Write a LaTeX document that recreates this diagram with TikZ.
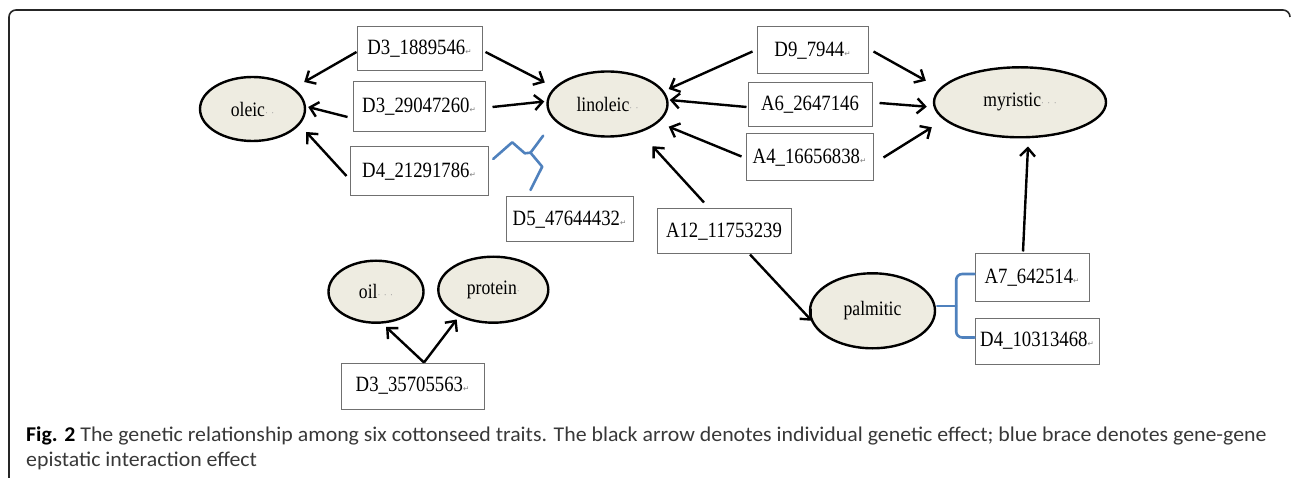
\documentclass[tikz,border=0pt]{standalone}
\usepackage{fontspec}
\setmainfont{Liberation Serif}[FakeStretch=0.86]
\newfontfamily\capfont{Carlito}[FakeStretch=1.04]
\newfontfamily\glyphfont{DejaVu Sans}
\usetikzlibrary{shapes.geometric,arrows.meta}
\definecolor{traitfill}{HTML}{EEECE1}
\definecolor{bracecol}{HTML}{4F81BD}
\definecolor{boxline}{HTML}{707070}
\definecolor{captext}{HTML}{383838}
% small paragraph and space marks that follow some labels
\newcommand{\retmark}{\hbox{\glyphfont\fontsize{7.5}{7.5}\selectfont\color{gray}↵}}
\newcommand{\dotmark}{{\color{gray!80}\fontsize{10}{10}\selectfont ·}}
\tikzset{
  snpbox/.style={draw=boxline, line width=1pt, fill=white, inner sep=0pt,
                 font=\fontsize{21.8}{23}\selectfont},
  trait/.style={ellipse, draw=black, line width=2.4pt, fill=traitfill, inner sep=0pt,
                font=\fontsize{20.5}{22}\selectfont},
  effect/.style={draw=black, line width=2.4pt,
                 -{Straight Barb[length=8pt,width=15pt,line width=2.4pt]}},
  epistasis/.style={draw=bracecol, line width=2.6pt, line join=round, line cap=round},
  frameline/.style={draw=black!85, line width=1.6pt},
  captionline/.style={anchor=base west, inner sep=0pt, text=captext,
                      font=\capfont\fontsize{21}{24}\selectfont},
}
\begin{document}
\begin{tikzpicture}[x=1pt,y=-1pt]
\useasboundingbox (0,0) rectangle (1292,478);

% outer frame (open at the bottom)
\draw[frameline, rounded corners=7pt] (9,478) -- (9,10) -- (1290,10) -- (1290,17);

% traits
\node[trait, minimum width=105pt, minimum height=64pt] (oleic)    at (252.5,109) {oleic\dotmark\,\dotmark};
\node[trait, minimum width=120pt, minimum height=65pt] (linoleic) at (607.5,104) {linoleic\dotmark\,\dotmark};
\node[trait, minimum width=172pt, minimum height=70pt] (myristic) at (1020,102.3) {myristic\dotmark\,\dotmark\,\dotmark};
\node[trait, minimum width=95pt,  minimum height=62pt] (oil)      at (376,291.7) {oil\dotmark\,\dotmark\,\dotmark};
\node[trait, minimum width=110pt, minimum height=66pt] (protein)  at (493.3,289.7) {protein\dotmark};
\node[trait, minimum width=125pt, minimum height=75pt] (palmitic) at (872.5,310.8) {palmitic};

% loci
\node[snpbox, minimum width=125pt, minimum height=44pt] (b1)  at (419.5,49)   {D3\_1889546\retmark};
\node[snpbox, minimum width=132pt, minimum height=50pt] (b2)  at (419,107)    {D3\_29047260\retmark};
\node[snpbox, minimum width=138pt, minimum height=49pt] (b3)  at (419,171.5)  {D4\_21291786\retmark};
\node[snpbox, minimum width=127pt, minimum height=45pt] (b4)  at (569.5,219.5){D5\_47644432\retmark};
\node[snpbox, minimum width=111pt, minimum height=47pt] (b5)  at (812.5,50.5) {D9\_7944\retmark};
\node[snpbox, minimum width=124pt, minimum height=44pt] (b6)  at (810,105)    {A6\_2647146};
\node[snpbox, minimum width=127pt, minimum height=47pt] (b7)  at (809.5,157.5){A4\_16656838\retmark};
\node[snpbox, minimum width=134pt, minimum height=45pt] (b8)  at (724,231.5)  {A12\_11753239};
\node[snpbox, minimum width=114pt, minimum height=47pt] (b9)  at (1032,277.5) {A7\_642514\retmark};
\node[snpbox, minimum width=124pt, minimum height=46pt] (b10) at (1037,341)   {D4\_10313468\retmark};
\node[snpbox, minimum width=143pt, minimum height=46pt] (b11) at (412.5,386)  {D3\_35705563\retmark};

% individual genetic effects
\draw[effect] ([shift={(0,3)}]b1.west)   -- ([shift={(-2,-27)}]oleic.east);
\draw[effect] ([shift={(-5,10)}]b2.west) -- ([shift={(2,-2)}]oleic.east);
\draw[effect] ([shift={(-3,4.5)}]b3.west) -- ([shift={(0,23)}]oleic.east);

\draw[effect] ([shift={(3,3)}]b1.east)   -- ([shift={(-1.5,-21.5)}]linoleic.west);
\draw[effect] ([shift={(7,0)}]b2.east)   -- ([shift={(-2,-2.5)}]linoleic.west);
\draw[effect] ([shift={(-4,1)}]b5.west)  -- ([shift={(0,-15)}]linoleic.east);
\draw[effect] ([shift={(-1,2)}]b6.west)  -- ([shift={(1,-4)}]linoleic.east);
\draw[effect] ([shift={(-4,-1)}]b7.west) -- ([shift={(0,22.7)}]linoleic.east);
\draw[effect] ([shift={(-20,-6)}]b8.north) -- ([shift={(45,8.5)}]linoleic.south);

\draw[effect] ([shift={(5,1)}]b5.east)   -- ([shift={(-7,-21.6)}]myristic.west);
\draw[effect] ([shift={(7,-2)}]b6.east)  -- ([shift={(-6,4.4)}]myristic.west);
\draw[effect] ([shift={(10,0)}]b7.east)  -- ([shift={(-1,25)}]myristic.west);
\draw[effect] ([shift={(-9,-2)}]b9.north) -- ([shift={(8,8)}]myristic.south);

\draw[effect] ([shift={(26,0)}]b8.south) -- ([shift={(3,10)}]palmitic.west);

\draw[effect] ([shift={(11.5,0)}]b11.north) -- ([shift={(10,3)}]oil.south);
\draw[effect] ([shift={(11.5,0)}]b11.north) -- ([shift={(-36.6,-4.4)}]protein.south);

% gene-gene epistatic interactions
\draw[epistasis] ([shift={(4.7,-12.5)}]b3.east) -- ++(19,-16.7) -- ++(12.6,11)
  -- ++(5.7,-0.6) coordinate (j1) -- ++(12.7,-17);
\draw[epistasis] (j1) -- ++(11.7,14) -- ++(-11.7,23.3);

\draw[epistasis] ([shift={(1,-5)}]palmitic.east) -- ++(19,0) coordinate (j2);
\draw[epistasis, rounded corners=6pt] ([shift={(0,-3.5)}]b9.west) -| (j2)
  |- ([shift={(0,-3.5)}]b10.west);

% caption
\node[captionline] (cap1) at (26,441.7)
  {{\bfseries\color{black}Fig. 2} The genetic relationship among six cottonseed traits. The black arrow denotes individual genetic effect; blue brace denotes gene-gene};
\node[captionline] (cap2) at (26,466) {epistatic interaction effect};
\end{tikzpicture}
\end{document}
